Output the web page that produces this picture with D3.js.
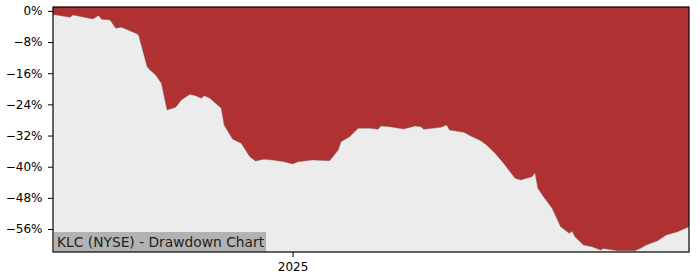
<!DOCTYPE html>
<html>
<head>
<meta charset="utf-8">
<script src="https://cdn.jsdelivr.net/npm/d3@7"></script>
<style>
  html, body { margin: 0; padding: 0; background: #fff; }
  svg { display: block; font-family: "DejaVu Sans", sans-serif; }
</style>
</head>
<body>
<svg id="chart" width="700" height="280"></svg>
<script>
const dates = [
  "2024-10-09","2024-10-15","2024-10-16","2024-10-23","2024-10-25","2024-10-26","2024-10-29","2024-10-31",
  "2024-11-02","2024-11-07","2024-11-08","2024-11-11","2024-11-12","2024-11-14","2024-11-16","2024-11-18",
  "2024-11-21","2024-11-23","2024-11-26","2024-11-28","2024-11-30","2024-12-01","2024-12-03","2024-12-07",
  "2024-12-08","2024-12-11","2024-12-14","2024-12-17","2024-12-19","2024-12-22","2024-12-25","2024-12-29",
  "2025-01-01","2025-01-03","2025-01-08","2025-01-14","2025-01-17","2025-01-18","2025-01-21","2025-01-24",
  "2025-01-28","2025-01-31","2025-02-01","2025-02-04","2025-02-09","2025-02-13","2025-02-15","2025-02-16",
  "2025-02-22","2025-02-24","2025-02-25","2025-03-02","2025-03-05","2025-03-08","2025-03-10","2025-03-13",
  "2025-03-16","2025-03-20","2025-03-22","2025-03-24","2025-03-26","2025-03-27","2025-03-28","2025-03-30",
  "2025-04-02","2025-04-05","2025-04-08","2025-04-09","2025-04-10","2025-04-13","2025-04-16","2025-04-19",
  "2025-04-20","2025-04-25","2025-05-01","2025-05-03","2025-05-05","2025-05-09","2025-05-12","2025-05-16",
  "2025-05-20"
];
const drawdown = [
  -0.9,-1.62,-1.03,-2.05,-1.21,-2.13,-2.31,-4.44,
  -4.19,-5.73,-6.16,-14.31,-15.16,-16.44,-18.57,-25.43,
  -24.74,-22.86,-21.40,-21.76,-22.43,-21.76,-22.43,-24.99,
  -29.28,-32.96,-33.98,-37.43,-38.53,-38.09,-38.27,-38.71,
  -39.30,-38.71,-38.27,-38.46,-35.71,-33.57,-32.29,-30.13,
  -30.13,-30.39,-29.54,-29.72,-30.31,-29.54,-29.72,-30.39,
  -29.87,-29.28,-30.57,-31.16,-32.29,-33.32,-34.42,-36.55,
  -39.12,-42.97,-43.41,-42.97,-42.56,-41.54,-45.54,-47.70,
  -50.68,-55.41,-57.10,-56.60,-58.00,-60.11,-60.54,-61.39,
  -61.00,-61.57,-61.57,-60.96,-60.11,-59.00,-57.54,-56.69,
  -55.41
];
const yTicks = [0, -8, -16, -24, -32, -40, -48, -56];
const xTicks = ["2025-01-01"];
const xTickLabels = ["2025"];
const title = "KLC (NYSE) - Drawdown Chart";

(function () {
const parse = d3.timeParse("%Y-%m-%d");
const data = dates.map((d, i) => ({ date: parse(d), value: drawdown[i] }));

const svg = d3.select("#chart");
const mLeft = 53, mRight = 689, mTop = 7, mBottom = 252;

const x = d3.scaleTime()
  .domain([parse("2024-10-09"), parse("2025-05-20")])
  .range([mLeft, mRight]);
const y = d3.scaleLinear()
  .domain([-61.9, 1])
  .range([mBottom, mTop]);

svg.append("rect")
  .attr("x", mLeft).attr("y", mTop)
  .attr("width", mRight - mLeft).attr("height", mBottom - mTop)
  .attr("fill", "#ececec");

const area = d3.area()
  .x(d => x(d.date))
  .y0(y(1))
  .y1(d => y(d.value));

svg.append("path")
  .datum(data)
  .attr("d", area)
  .attr("fill", "#b03131");

svg.append("path")
  .datum(data)
  .attr("d", d3.line().x(d => x(d.date)).y(d => y(d.value)))
  .attr("fill", "none")
  .attr("stroke", "rgba(110,110,110,0.55)")
  .attr("stroke-width", 0.8);

const yAxis = d3.axisLeft(y)
  .tickValues(yTicks)
  .tickSize(5)
  .tickPadding(5.5)
  .tickFormat(d => d === 0 ? "0%" : "\u2212" + Math.abs(d) + "%");
const gy = svg.append("g").attr("transform", `translate(${mLeft},0)`).call(yAxis);
gy.select(".domain").remove();
gy.selectAll("text").attr("font-size", 12).attr("font-family", "DejaVu Sans").attr("fill", "#000");
gy.selectAll("line").attr("stroke", "#000");

const xAxis = d3.axisBottom(x)
  .tickValues(xTicks.map(parse))
  .tickSize(5)
  .tickPadding(5.5)
  .tickFormat((d, i) => xTickLabels[i]);
const gx = svg.append("g").attr("transform", `translate(0,${mBottom})`).call(xAxis);
gx.select(".domain").remove();
gx.selectAll("text").attr("font-size", 12).attr("font-family", "DejaVu Sans").attr("fill", "#000");
gx.selectAll("line").attr("stroke", "#000");

const label = svg.append("g");
label.append("rect")
  .attr("x", mLeft + 1).attr("y", 232)
  .attr("width", 212).attr("height", mBottom - 232)
  .attr("fill", "#b2b2b2");
label.append("text")
  .attr("x", mLeft + 4).attr("y", 247)
  .attr("font-size", 13.8)
  .attr("fill", "#222")
  .text(title);

svg.append("rect")
  .attr("x", mLeft).attr("y", mTop)
  .attr("width", mRight - mLeft).attr("height", mBottom - mTop)
  .attr("fill", "none")
  .attr("stroke", "#000")
  .attr("stroke-width", 1.2);
})();
</script>
</body>
</html>
